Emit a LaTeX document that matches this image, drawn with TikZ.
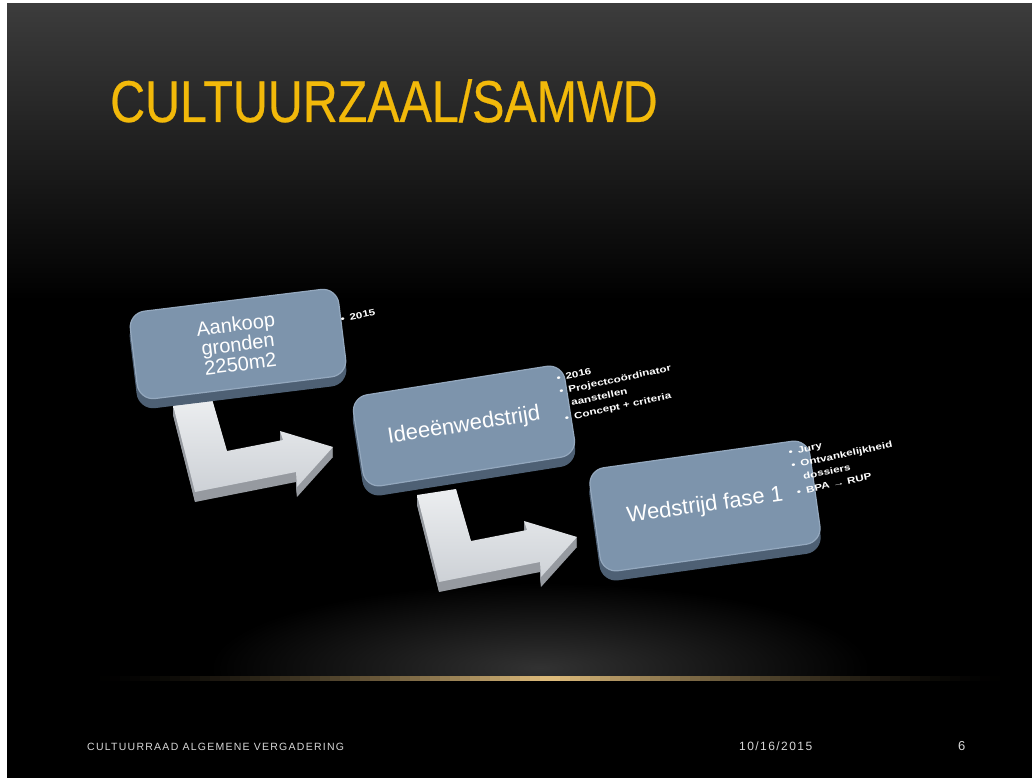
\documentclass[tikz,border=0pt]{standalone}
\usepackage{fontspec}
\setmainfont{Liberation Sans}
\newfontfamily\titlefont[FakeStretch=0.82,FakeBold=0.4]{Liberation Sans}
\newfontfamily\footfont[LetterSpace=12]{Liberation Sans}
\usetikzlibrary{shadows}
\definecolor{titlegold}{RGB}{242,185,10}
\definecolor{boxface}{RGB}{125,148,172}
\definecolor{boxside}{RGB}{78,96,116}
\definecolor{boxrim}{RGB}{148,168,190}
\definecolor{arrowtop}{RGB}{205,209,214}
\definecolor{arrowhi}{RGB}{236,238,240}
\definecolor{arrowside}{RGB}{150,154,160}
\definecolor{glowgold}{RGB}{225,190,125}
\definecolor{footgray}{RGB}{215,215,215}
\begin{document}
\begin{tikzpicture}[x=1pt,y=-1pt,
  stepbox/.style={draw=boxrim, line width=1.2pt, fill=boxface, rounded corners=16pt,
    text=white, align=center, inner sep=0pt,
    font=\fontsize{20}{20}\selectfont,
    copy shadow={shadow xshift=0pt, shadow yshift=-9pt, fill=boxside, draw=boxside}},
  note/.style={anchor=north west, rotate=12, xscale=1.3, text=white, inner sep=0pt,
    font=\bfseries\fontsize{9}{13.5}\selectfont},
  arrowface/.style={top color=arrowhi, bottom color=arrowtop},
  arrowbody/.style={fill=arrowside}
]
% page and slide background
\useasboundingbox (0,0) rectangle (1032,778);
\fill[white] (0,0) rectangle (1032,778);
\fill[black] (7,4) rectangle (1032,778);
\shade[top color={rgb,255:red,60;green,60;blue,60}, bottom color=black] (7,4) rectangle (1032,300);
% glow near the bottom
\shade[inner color={rgb,255:red,50;green,50;blue,50}, outer color=black] (540,668) ellipse [x radius=330, y radius=85];
\fill[black] (7,679) rectangle (1032,778);
% golden horizon line, built from short segments
\foreach \i in {0,...,90} {
  \pgfmathsetmacro{\xa}{100+10*\i}
  \pgfmathsetmacro{\p}{100*(max(0,1-abs(\xa+5-550)/455))^1.6}
  \fill[glowgold!\p!black] (\xa,676) rectangle (\xa+10.5,680.5);
}

% title
\node[anchor=base west, text=titlegold, inner sep=0pt,
  font=\titlefont\fontsize{59}{60}\selectfont] (title) at (110,122) {CULTUURZAAL/SAMWD};

% bent arrows (drawn below the boxes)
\foreach \dx/\dy in {0/0, 244/90} {
  \begin{scope}[shift={(\dx,\dy)}]
    \foreach \s in {1,2,...,10}
      \fill[arrowbody] (173,405+\s) -- (212,399+\s) -- (227,451+\s) -- (283,440+\s) -- (280,431+\s)
        -- (333,447+\s) -- (297,487+\s) -- (296,472+\s) -- (195,492+\s) -- cycle;
    \shade[arrowface] (173,405) -- (212,399) -- (227,451) -- (283,440) -- (280,431)
        -- (333,447) -- (297,487) -- (296,472) -- (195,492) -- cycle;
  \end{scope}
}

% boxes
\node[stepbox, minimum width=210pt, minimum height=88pt, rotate=7] (b1) at (238,344)
  {Aankoop\\gronden\\2250m2};
\node[stepbox, minimum width=214pt, minimum height=92pt, rotate=9, font=\fontsize{22}{23}\selectfont] (b2) at (464,426)
  {Ideeënwedstrijd};
\node[stepbox, minimum width=222pt, minimum height=104pt, rotate=8, font=\fontsize{22}{23}\selectfont] (b3) at (705,506)
  {Wedstrijd fase 1};

% side notes
\node[note] (n1) at (339,313) {\begin{tabular}{@{}l@{\hspace{4pt}}l@{}}•&2015\end{tabular}};
\node[note] (n2) at (555,372) {\begin{tabular}{@{}l@{\hspace{4pt}}l@{}}•&2016\\•&Projectcoördinator\\&aanstellen\\•&Concept + criteria\end{tabular}};
\node[note] (n3) at (787,446) {\begin{tabular}{@{}l@{\hspace{4pt}}l@{}}•&Jury\\•&Ontvankelijkheid\\&dossiers\\•&BPA → RUP\end{tabular}};

% footer
\node[anchor=base west, inner sep=0pt, text=footgray, font=\footfont\fontsize{10.5}{12}\selectfont] (foot) at (87,750) {CULTUURRAAD ALGEMENE VERGADERING};
\node[anchor=base west, inner sep=0pt, text=footgray, font=\footfont\fontsize{12}{13}\selectfont] (date) at (739,750) {10/16/2015};
\node[anchor=base west, inner sep=0pt, text=footgray, font=\fontsize{13}{14}\selectfont] (page) at (958,750) {6};
\end{tikzpicture}
\end{document}
